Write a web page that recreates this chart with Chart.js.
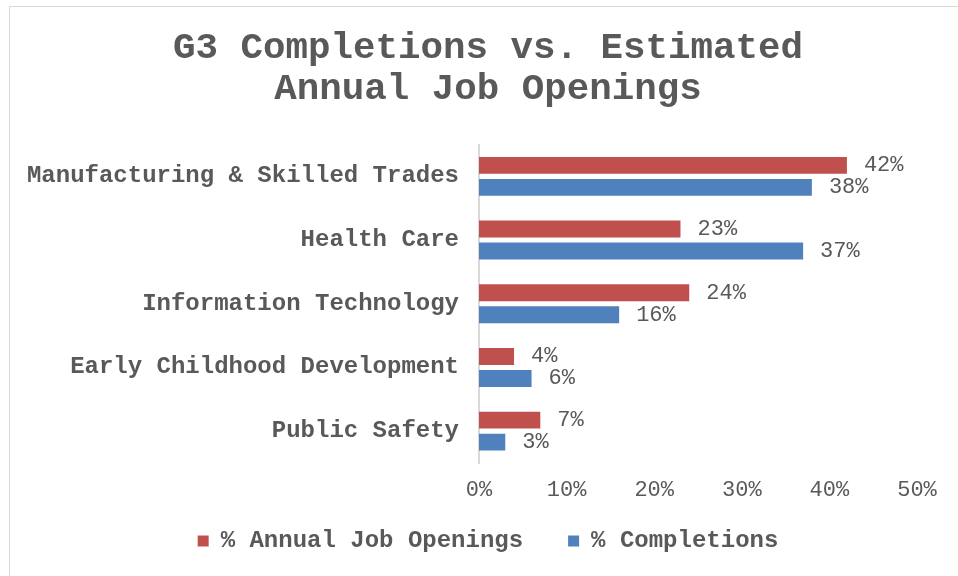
<!DOCTYPE html>
<html>
<head>
<meta charset="utf-8">
<script src="https://cdn.jsdelivr.net/npm/chart.js@4.4.1/dist/chart.umd.min.js"></script>
<style>
  body { margin: 0; background: #fff; }
  #wrap { position: relative; width: 958px; height: 576px; overflow: hidden; }
  #frame { position: absolute; left: 9px; top: 6px; width: 960px; height: 580px; border: 1px solid #d9d9d9; pointer-events: none; }
</style>
</head>
<body>
<div id="wrap">
  <canvas id="jobsChart" width="958" height="576"></canvas>
  <div id="frame"></div>
</div>
<script>
const categories = [
  "Manufacturing & Skilled Trades",
  "Health Care",
  "Information Technology",
  "Early Childhood Development",
  "Public Safety"
];
const jobOpenings = [42, 23, 24, 4, 7];
const completions = [38, 37, 16, 6, 3];
const xTicks = [0, 10, 20, 30, 40, 50];

const FONT = "'Liberation Mono', 'Courier New', monospace";
const TEXT = "#595959";

// value labels at the end of each bar
const barLabels = {
  id: "barLabels",
  afterDatasetsDraw(chart) {
    const ctx = chart.ctx;
    ctx.save();
    ctx.font = "22px " + FONT;
    ctx.fillStyle = TEXT;
    ctx.textAlign = "left";
    ctx.textBaseline = "middle";
    chart.data.datasets.forEach((ds, i) => {
      chart.getDatasetMeta(i).data.forEach((bar, j) => {
        ctx.fillText(ds.data[j] + "%", bar.x + 17, bar.y);
      });
    });
    ctx.restore();
  }
};

new Chart(document.getElementById("jobsChart").getContext("2d"), {
  type: "bar",
  data: {
    labels: categories,
    datasets: [
      {
        label: "% Annual Job Openings",
        data: jobOpenings,
        backgroundColor: "#C0504D",
        categoryPercentage: 0.69,
        barPercentage: 0.77
      },
      {
        label: "% Completions",
        data: completions,
        backgroundColor: "#4F81BD",
        categoryPercentage: 0.69,
        barPercentage: 0.77
      }
    ]
  },
  options: {
    indexAxis: "y",
    responsive: false,
    animation: false,
    layout: { padding: { top: 18, right: 0, bottom: 13, left: 18 } },
    plugins: {
      title: {
        display: true,
        text: ["G3 Completions vs. Estimated", "Annual Job Openings"],
        color: TEXT,
        font: { family: FONT, size: 37.5, weight: "bold", lineHeight: 1.1 },
        padding: { top: 10, bottom: 34 }
      },
      legend: {
        position: "bottom",
        labels: {
          color: TEXT,
          font: { family: FONT, size: 24, weight: "bold" },
          boxWidth: 11,
          boxHeight: 11,
          padding: 45
        }
      },
      tooltip: { enabled: false }
    },
    scales: {
      x: {
        min: 0,
        max: 50,
        afterBuildTicks(scale) {
          scale.ticks = xTicks.map(v => ({ value: v }));
        },
        afterFit(scale) {
          scale.height = 21;
        },
        ticks: {
          color: TEXT,
          font: { family: FONT, size: 22 },
          mirror: true,
          padding: -40,
          callback: v => v + "%"
        },
        grid: { display: false },
        border: { display: false }
      },
      y: {
        afterFit(scale) {
          scale.width = 461;
        },
        ticks: {
          color: TEXT,
          font: { family: FONT, size: 24, weight: "bold" },
          padding: 20
        },
        grid: { display: false, drawTicks: false },
        border: { display: true, color: "#d9d9d9", width: 2 }
      },
      // empty right-hand spacer so the plot ends at 50% where the reference does
      yRight: {
        type: "category",
        position: "right",
        afterFit(scale) {
          scale.width = 41;
        },
        ticks: { display: false },
        grid: { display: false },
        border: { display: false }
      }
    }
  },
  plugins: [barLabels]
});
</script>
</body>
</html>
